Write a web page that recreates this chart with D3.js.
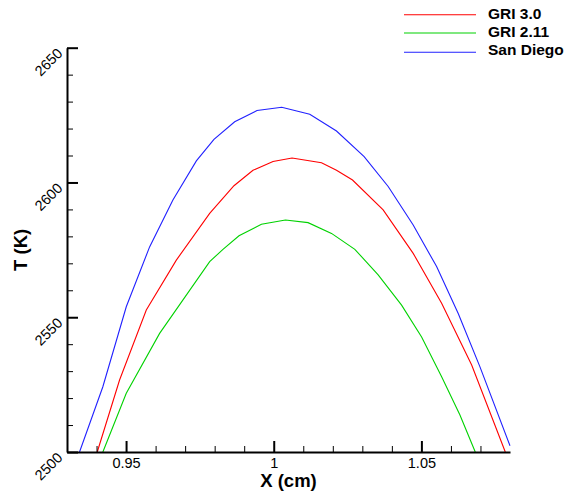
<!DOCTYPE html>
<html>
<head>
<meta charset="utf-8">
<script src="https://cdn.jsdelivr.net/npm/d3@7"></script>
<style>
  html, body { margin: 0; padding: 0; background: #fff; }
  svg { display: block; font-family: "Liberation Sans", Arial, Helvetica, sans-serif; }
</style>
</head>
<body>
<svg id="chart" width="566" height="493"></svg>
<script>
// ---- data ----
const seriesNames = ["GRI 3.0", "GRI 2.11", "San Diego"];
const seriesColors = ["#ff0000", "#00d200", "#2020ff"];

const gri30X = [0.94024, 0.94780, 0.95685, 0.96702, 0.97831, 0.98654, 0.99298, 0.99976, 1.00620, 1.01617, 1.02125, 1.02668, 1.03705, 1.04722, 1.05685, 1.06702, 1.07841];
const gri30T = [2500, 2526.7, 2552.7, 2571.2, 2588.5, 2598.8, 2604.5, 2607.8, 2609.1, 2607.3, 2604.5, 2600.9, 2589.8, 2573.7, 2555.2, 2532.3, 2500];

const gri211X = [0.94214, 0.95007, 0.96136, 0.97831, 0.98281, 0.98824, 0.99583, 1.00397, 1.01163, 1.01956, 1.02746, 1.03536, 1.04329, 1.05007, 1.05685, 1.06305, 1.06824];
const gri211T = [2500, 2521.8, 2544.0, 2570.6, 2575.2, 2580.2, 2584.5, 2586.1, 2585.1, 2581.1, 2575.2, 2565.7, 2554.5, 2542.7, 2527.9, 2513.7, 2500];

const sdX = [0.93424, 0.94214, 0.95007, 0.95797, 0.96586, 0.97380, 0.97976, 0.98678, 0.99434, 1.00271, 1.01220, 1.02125, 1.03061, 1.03875, 1.04722, 1.05515, 1.06247, 1.06983, 1.08000];
const sdT = [2500, 2524.2, 2553.9, 2576.1, 2593.5, 2608.0, 2616.0, 2622.5, 2626.7, 2627.9, 2625.3, 2619.1, 2609.6, 2598.5, 2584.2, 2568.8, 2551.4, 2531.6, 2502.3];

const xMajorTicks = [0.95, 1, 1.05];
const xTickLabels = ["0.95", "1", "1.05"];
const xMinorTicks = [0.94, 0.96, 0.97, 0.98, 0.99, 1.01, 1.02, 1.03, 1.04, 1.06, 1.07];
const yMajorTicks = [2500, 2550, 2600, 2650];
const yTickLabels = ["2500", "2550", "2600", "2650"];
const yMinorTicks = [2510, 2520, 2530, 2540, 2560, 2570, 2580, 2590, 2610, 2620, 2630, 2640];
const xTitle = "X (cm)";
const yTitle = "T (K)";

// ---- drawing ----
const svg = d3.select("#chart");
const x = d3.scaleLinear().domain([0.93, 1.08]).range([67, 510]);
const y = d3.scaleLinear().domain([2500, 2650]).range([452, 47.7]);

const series = [
  { name: seriesNames[0], color: seriesColors[0], xs: gri30X, ts: gri30T },
  { name: seriesNames[1], color: seriesColors[1], xs: gri211X, ts: gri211T },
  { name: seriesNames[2], color: seriesColors[2], xs: sdX, ts: sdT }
];

const line = d3.line().x(d => x(d[0])).y(d => y(d[1]));

svg.append("g").selectAll("path").data(series).join("path")
  .attr("d", s => line(s.xs.map((v, i) => [v, s.ts[i]])))
  .attr("fill", "none")
  .attr("stroke", s => s.color)
  .attr("stroke-width", 1.1);

// minor ticks
svg.append("g").attr("transform", `translate(0,${y(2500)})`)
  .call(d3.axisBottom(x).tickValues(xMinorTicks).tickSize(-6).tickFormat(""))
  .call(g => g.select(".domain").remove())
  .call(g => g.selectAll("line").attr("stroke", "#000").attr("stroke-width", 1));
svg.append("g").attr("transform", `translate(${x(0.93)},0)`)
  .call(d3.axisLeft(y).tickValues(yMinorTicks).tickSize(-6).tickFormat(""))
  .call(g => g.select(".domain").remove())
  .call(g => g.selectAll("line").attr("stroke", "#000").attr("stroke-width", 1));

// major x axis
const gx = svg.append("g").attr("transform", `translate(0,${y(2500)})`)
  .call(d3.axisBottom(x).tickValues(xMajorTicks).tickSizeInner(-11).tickSizeOuter(0)
    .tickFormat((d, i) => xTickLabels[i]));
gx.attr("font-size", null).attr("font-family", null);
gx.select(".domain").attr("stroke", "#000").attr("stroke-width", 2);
gx.selectAll(".tick line").attr("stroke", "#000").attr("stroke-width", 2);
gx.selectAll(".tick text")
  .attr("y", 15.5).attr("dy", 0)
  .attr("fill", "#000")
  .attr("font-size", "14.5px")
  .style("font-size", "14.5px")
  .style("font-family", "'Liberation Sans', Arial, sans-serif");

// major y axis
const gy = svg.append("g").attr("transform", `translate(${x(0.93)},0)`)
  .call(d3.axisLeft(y).tickValues(yMajorTicks).tickSizeInner(-11).tickSizeOuter(0)
    .tickFormat((d, i) => yTickLabels[i]));
gy.attr("font-size", null).attr("font-family", null);
gy.select(".domain").attr("stroke", "#000").attr("stroke-width", 2);
gy.selectAll(".tick line").attr("stroke", "#000").attr("stroke-width", 2);
gy.selectAll(".tick text")
  .attr("x", 0).attr("dy", 0)
  .attr("transform", "translate(-3.5,6) rotate(-45)")
  .attr("text-anchor", "end")
  .attr("fill", "#000")
  .attr("font-size", "14.5px")
  .style("font-size", "14.5px")
  .style("font-family", "'Liberation Sans', Arial, sans-serif");

// axis titles
svg.append("text")
  .attr("x", (x.range()[0] + x.range()[1]) / 2)
  .attr("y", 487)
  .attr("text-anchor", "middle")
  .style("font-size", "18.5px").style("font-weight", "bold")
  .text(xTitle);
svg.append("text")
  .attr("transform", `translate(26.5,${(y.range()[0] + y.range()[1]) / 2}) rotate(-90)`)
  .attr("text-anchor", "middle")
  .style("font-size", "18.5px").style("font-weight", "bold")
  .text(yTitle);

// legend
const legendLineY = [14.7, 33, 52.3];
const legendTextY = [18.5, 36.8, 55];
const lg = svg.append("g");
series.forEach((s, i) => {
  lg.append("line")
    .attr("x1", 404).attr("x2", 476)
    .attr("y1", legendLineY[i]).attr("y2", legendLineY[i])
    .attr("stroke", s.color).attr("stroke-width", 1.1);
  lg.append("text")
    .attr("x", 488).attr("y", legendTextY[i])
    .style("font-size", "15.5px").style("font-weight", "bold")
    .text(s.name);
});
</script>
</body>
</html>
